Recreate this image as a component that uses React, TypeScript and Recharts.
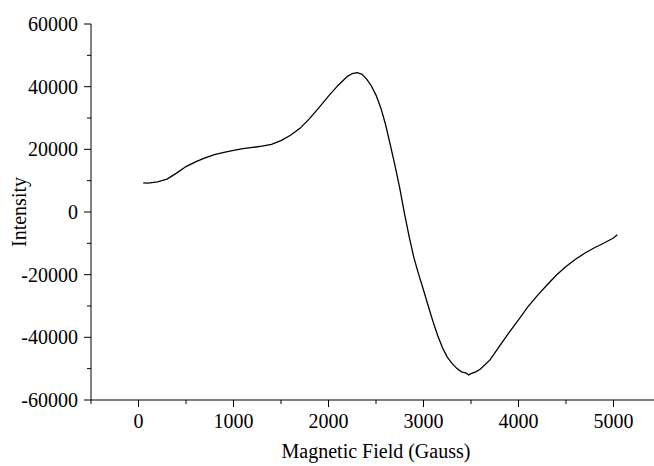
import { LineChart, Line, XAxis, YAxis, Label } from 'recharts'

// field (Gauss) and EPR intensity
const FIELD = [
  50, 100, 200, 300, 400, 500, 600, 700, 800, 900, 1000, 1100, 1200, 1300, 1400,
  1500, 1600, 1700, 1800, 1900, 2000, 2100, 2200, 2250, 2300, 2350, 2400, 2450,
  2500, 2550, 2600, 2650, 2700, 2750, 2800, 2850, 2900, 2950, 3000, 3050, 3100,
  3150, 3200, 3250, 3300, 3350, 3400, 3450, 3475, 3500, 3550, 3600, 3700, 3800,
  3900, 4000, 4100, 4200, 4300, 4400, 4500, 4600, 4700, 4800, 4900, 5000, 5040,
]
const INTENSITY = [
  9300, 9200, 9600, 10500, 12400, 14500, 16000, 17300, 18300, 19000, 19700, 20200,
  20600, 21000, 21600, 22800, 24500, 26700, 29800, 33300, 37000, 40400, 43300,
  44200, 44500, 44000, 42500, 40300, 37300, 33300, 28000, 21500, 14800, 7600, -500,
  -8000, -14700, -20000, -24900, -30000, -35000, -39500, -43300, -46300, -48300,
  -49900, -51000, -51400, -52000, -51600, -51000, -50100, -47200, -42800, -38500,
  -34400, -30200, -26600, -23300, -20100, -17400, -15100, -13100, -11400, -9900,
  -8300, -7300,
]
const X_TICKS = [-500, 0, 500, 1000, 1500, 2000, 2500, 3000, 3500, 4000, 4500, 5000, 5500]
const Y_TICKS = [-60000, -50000, -40000, -30000, -20000, -10000, 0, 10000, 20000, 30000, 40000, 50000, 60000]

const data = FIELD.map((f, i) => ({ field: f, intensity: INTENSITY[i] }))

const TXT = { fontFamily: "'Liberation Serif', 'Times New Roman', Times, serif", fontSize: 20 }

function XTick(props: any) {
  const { x, y, payload } = props
  const major = payload.value % 1000 === 0
  return (
    <g>
      <line x1={x} y1={y} x2={x} y2={y + (major ? 7 : 4)} stroke="#000" strokeWidth={1} />
      {major && (
        <text x={x} y={y + 28} textAnchor="middle" style={TXT} fill="#000">
          {payload.value}
        </text>
      )}
    </g>
  )
}

function YTick(props: any) {
  const { x, y, payload } = props
  const major = payload.value % 20000 === 0
  return (
    <g>
      <line x1={x - (major ? 7 : 4)} y1={y} x2={x} y2={y} stroke="#000" strokeWidth={1} />
      {major && (
        <text x={x - 13} y={y + 7} textAnchor="end" style={TXT} fill="#000">
          {payload.value}
        </text>
      )}
    </g>
  )
}

export default function App() {
  return (
    <div style={{ position: 'absolute', left: 0, top: 0, width: 654, height: 466, overflow: 'hidden', background: '#fff', fontFamily: TXT.fontFamily }}>
      <LineChart width={680} height={466} data={data} margin={{ top: 24, right: 19, bottom: 0, left: 0 }}>
        <XAxis
          dataKey="field"
          type="number"
          domain={[-500, 5500]}
          ticks={X_TICKS}
          interval={0}
          tickSize={0}
          tickMargin={0}
          tickLine={false}
          tick={XTick}
          height={66}
          axisLine={{ stroke: '#000', strokeWidth: 1 }}
        >
          <Label
            content={(p: any) => {
              const vb = p.viewBox
              return (
                <text x={vb.x + vb.width / 2} y={vb.y + 58} textAnchor="middle" style={TXT} fill="#000">
                  Magnetic Field (Gauss)
                </text>
              )
            }}
          />
        </XAxis>
        <YAxis
          type="number"
          domain={[-60000, 60000]}
          ticks={Y_TICKS}
          interval={0}
          tickSize={0}
          tickMargin={0}
          tickLine={false}
          tick={YTick}
          width={91}
          axisLine={{ stroke: '#000', strokeWidth: 1 }}
        >
          <Label
            content={(p: any) => {
              const vb = p.viewBox
              const cx = vb.x + 26
              const cy = vb.y + vb.height / 2
              return (
                <text x={cx} y={cy} transform={`rotate(-90, ${cx}, ${cy})`} textAnchor="middle" style={TXT} fill="#000">
                  Intensity
                </text>
              )
            }}
          />
        </YAxis>
        <Line
          type="linear"
          dataKey="intensity"
          stroke="#000"
          strokeWidth={1.3}
          dot={false}
          isAnimationActive={false}
        />
      </LineChart>
    </div>
  )
}
